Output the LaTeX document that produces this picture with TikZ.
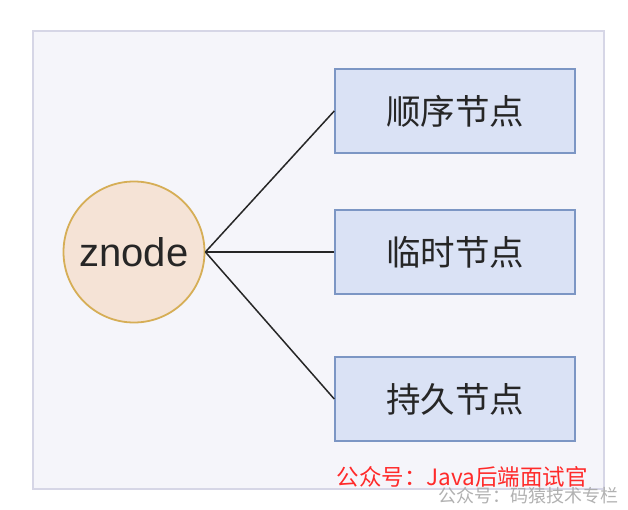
\documentclass[tikz,border=0pt]{standalone}
\usepackage{fontspec}
\setmainfont{Liberation Sans}
\newfontfamily\cjk{Noto Sans CJK SC}
\usepackage{tikz}
\usetikzlibrary{positioning}

\definecolor{panelfill}{HTML}{F5F5FA}
\definecolor{paneldraw}{HTML}{D6D6E6}
\definecolor{rootfill}{HTML}{F5E3D6}
\definecolor{rootdraw}{HTML}{D6AE56}
\definecolor{kindfill}{HTML}{DAE2F5}
\definecolor{kinddraw}{HTML}{7C96C4}
\definecolor{inktext}{HTML}{262626}
\definecolor{markred}{HTML}{FF2A2A}
\definecolor{markgray}{HTML}{A8A8A8}

\tikzset{
    root/.style={circle, fill=rootfill, draw=rootdraw, line width=1.8pt, minimum size=141pt, inner sep=0pt, text=inktext, font=\fontsize{40}{40}\selectfont},
    kind/.style={rectangle, fill=kindfill, draw=kinddraw, line width=1.5pt, minimum width=240pt, minimum height=84pt, inner sep=0pt, text=inktext, font=\cjk\fontsize{34.5}{34.5}\selectfont},
    link/.style={draw=inktext, line width=1.5pt}
}

\begin{document}
\begin{tikzpicture}[x=1pt, y=-1pt]
        \useasboundingbox (0,0) rectangle (628,510);
        % the panel
        \filldraw[fill=panelfill, draw=paneldraw, line width=1.5pt] (33,31) rectangle (604,489);

        % the nodes
        \node[root] (znode) at (134,252) {znode};
        \node[kind] (seq) at (455,111) {顺序节点};
        \node[kind] (tmp) at (455,252) {临时节点};
        \node[kind] (per) at (455,399) {持久节点};

        % the links
        \draw[link] (znode.east) -- (seq.west);
        \draw[link] (znode.east) -- (tmp.west);
        \draw[link] (znode.east) -- (per.west);

        % the marks
        \node[anchor=west, text=markred, font=\cjk\fontsize{22.5}{22.5}\selectfont] (markA) at (333,477) {公众号：Java后端面试官};
        \node[anchor=east, text=markgray, opacity=0.9, font=\cjk\fontsize{18}{18}\selectfont] (markB) at (622,496) {公众号：码猿技术专栏};
    \end{tikzpicture}
\end{document}
